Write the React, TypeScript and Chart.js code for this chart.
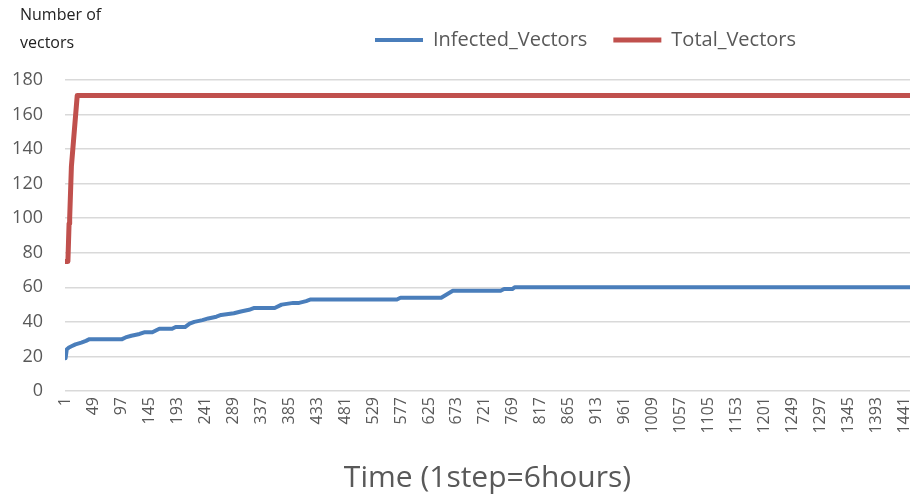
import React, { useEffect, useRef } from "react";
import { Chart, registerables } from "chart.js";

Chart.register(...registerables);

// ---- data ----
const seriesNames = ["Infected_Vectors", "Total_Vectors"];

const infectedSteps = [1, 3, 6, 12, 18, 28, 36, 42, 98, 104, 114, 128, 136, 150, 156, 162, 184, 190, 206, 214, 222, 236, 246, 260, 268, 290, 302, 316, 324, 360, 372, 392, 402, 414, 422, 570, 576, 646, 656, 666, 748, 754, 768, 772, 1460];
const infectedValues = [19, 24, 25, 26, 27, 28, 29, 30, 30, 31, 32, 33, 34, 34, 35, 36, 36, 37, 37, 39, 40, 41, 42, 43, 44, 45, 46, 47, 48, 48, 50, 51, 51, 52, 53, 53, 54, 54, 56, 58, 58, 59, 59, 60, 60];

const totalSteps = [1, 5, 7, 8, 11, 21, 1460];
const totalValues = [75, 75, 97, 100, 130, 171, 171];

const xTickLabels = [1, 49, 97, 145, 193, 241, 289, 337, 385, 433, 481, 529, 577, 625, 673, 721, 769, 817, 865, 913, 961, 1009, 1057, 1105, 1153, 1201, 1249, 1297, 1345, 1393, 1441];
const yTickLabels = [0, 20, 40, 60, 80, 100, 120, 140, 160, 180];

const FONT = "'Open Sans', 'Noto Sans', sans-serif";
const TEXT_GRAY = "#595959";

const legendPlacer = {
  id: "legendPlacer",
  beforeLayout(chart: any) {
    const lg = chart.legend;
    if (lg && !lg._patched) {
      const orig = lg.fit.bind(lg);
      lg.fit = function () {
        orig();
        this.height = 76;
      };
      lg._patched = true;
    }
  },
  afterLayout(chart: any) {
    const lg = chart.legend;
    if (!lg) return;
    const w = lg.right - lg.left;
    lg.left = 375 - 26;
    lg.right = lg.left + w;
  },
};

export default function App() {
  const canvasRef = useRef<HTMLCanvasElement | null>(null);

  useEffect(() => {
    if (!canvasRef.current) return;
    const infected = infectedSteps.map((s, i) => ({ x: s, y: infectedValues[i] }));
    const total = totalSteps.map((s, i) => ({ x: s, y: totalValues[i] }));

    const chart = new Chart(canvasRef.current, {
      type: "line",
      data: {
        datasets: [
          {
            label: seriesNames[0],
            data: infected,
            borderColor: "#4A7EBB",
            backgroundColor: "#4A7EBB",
            borderWidth: 4,
            borderCapStyle: "round",
            borderJoinStyle: "round",
            pointRadius: 0,
            tension: 0,
          },
          {
            label: seriesNames[1],
            data: total,
            borderColor: "#C0504D",
            backgroundColor: "#C0504D",
            borderWidth: 5,
            borderCapStyle: "round",
            borderJoinStyle: "round",
            pointRadius: 0,
            tension: 0,
          },
        ],
      },
      options: {
        responsive: false,
        animation: false,
        layout: { padding: { top: 4, left: 0, right: 0, bottom: 0 } },
        plugins: {
          legend: {
            display: true,
            position: "top",
            align: "start",
            labels: {
              usePointStyle: true,
              pointStyle: "line",
              pointStyleWidth: 48,
              padding: 26,
              color: TEXT_GRAY,
              font: { family: FONT, size: 20 },
            },
          },
          tooltip: { enabled: false },
          title: { display: false },
        },
        scales: {
          x: {
            type: "linear",
            min: 0,
            max: 1451,
            grid: { display: false, drawTicks: false },
            border: { display: false },
            afterBuildTicks: (axis: any) => {
              axis.ticks = xTickLabels.map((v) => ({ value: v }));
            },
            afterFit: (scale: any) => {
              scale.height = 110;
              scale.paddingLeft = 0;
              scale.paddingRight = 0;
            },
            ticks: {
              autoSkip: false,
              minRotation: 90,
              maxRotation: 90,
              padding: 6,
              color: TEXT_GRAY,
              font: { family: FONT, size: 16 },
              callback: (v: any) => String(v),
            },
            title: {
              display: true,
              text: "Time (1step=6hours)",
              color: TEXT_GRAY,
              font: { family: FONT, size: 30 },
              padding: { top: 0, bottom: 5 },
            },
          },
          y: {
            type: "linear",
            min: yTickLabels[0],
            max: yTickLabels[yTickLabels.length - 1],
            afterBuildTicks: (axis: any) => {
              axis.ticks = yTickLabels.map((v) => ({ value: v }));
            },
            afterFit: (scale: any) => {
              scale.width = 65;
            },
            grid: { color: "#D9D9D9", lineWidth: 1.5, drawTicks: false },
            border: { display: false },
            ticks: {
              padding: 22,
              color: TEXT_GRAY,
              font: { family: FONT, size: 18 },
              callback: (v: any) => String(v),
            },
          },
        },
      },
      plugins: [legendPlacer],
    } as any);

    return () => chart.destroy();
  }, []);

  return (
    <div style={{ position: "absolute", left: 0, top: 0, width: 910, height: 501, background: "#fff", overflow: "hidden" }}>
      <canvas ref={canvasRef} width={910} height={501} style={{ display: "block" }} />
      <div
        style={{
          position: "absolute",
          left: 20,
          top: 0,
          fontFamily: FONT,
          fontSize: 16,
          lineHeight: "28px",
          color: "#222",
          whiteSpace: "pre",
        }}
      >
        <div>Number of</div>
        <div>vectors</div>
      </div>
    </div>
  );
}
